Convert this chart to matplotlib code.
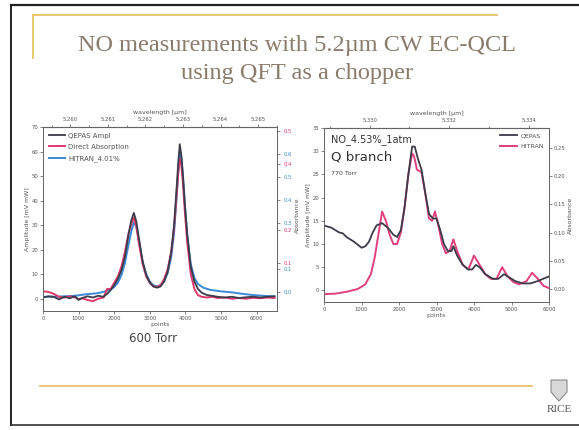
import matplotlib
matplotlib.use("Agg")
import matplotlib.pyplot as plt
from matplotlib.lines import Line2D
from matplotlib.patches import Polygon

# ---- left panel (600 Torr) ----
qepas_l_x = [0, 150, 300, 450, 600, 750, 900, 1000, 1100, 1250, 1400, 1550, 1700, 1800, 1900,
             2000, 2100, 2200, 2300, 2400, 2480, 2550, 2620, 2700, 2800, 2900, 3000, 3100, 3200,
             3300, 3400, 3500, 3600, 3680, 3750, 3800, 3840, 3880, 3930, 3980, 4050, 4150, 4250,
             4350, 4450, 4600, 4750, 4900, 5100, 5300, 5500, 5700, 5900, 6100, 6300, 6500]
qepas_l_y = [0.5, 1.0, 0.8, -0.3, 0.8, 0.2, 1.0, -0.5, 0.3, 1.0, 0.5, 1.2, 0.8, 2.0, 3.5,
             5.5, 8.0, 11.5, 17.0, 26.0, 32.0, 35.0, 31.5, 24.0, 15.0, 9.5, 6.5, 5.0, 4.5,
             5.0, 7.0, 11.0, 19.0, 30.0, 45.0, 56.0, 63.0, 59.0, 50.0, 39.0, 26.0, 13.0, 7.0,
             4.0, 2.5, 1.5, 1.2, 0.8, 0.5, 0.8, 0.3, 0.6, 0.8, 0.5, 0.8, 1.0]

direct_x = [0, 150, 300, 450, 600, 750, 900, 1000, 1100, 1250, 1400, 1550, 1700, 1800, 1900,
            2000, 2100, 2200, 2300, 2400, 2480, 2550, 2620, 2700, 2800, 2900, 3000, 3100, 3200,
            3300, 3400, 3500, 3600, 3680, 3750, 3800, 3840, 3880, 3930, 3980, 4050, 4150, 4250,
            4350, 4450, 4600, 4750, 4900, 5100, 5300, 5500, 5700, 5900, 6100, 6300, 6500]
direct_y = [3.0, 2.8, 2.0, 0.8, 0.5, 1.0, 0.5, -0.2, 0.2, -0.5, -1.0, 0.0, 0.5, 4.0, 4.0,
            6.5, 9.0, 13.0, 19.0, 26.5, 30.5, 33.0, 29.5, 22.0, 14.0, 9.0, 6.5, 5.0, 4.8,
            5.5, 8.0, 12.0, 19.0, 29.0, 42.0, 52.0, 57.0, 55.0, 47.0, 36.0, 23.0, 10.0, 4.0,
            1.5, 0.8, 0.5, 0.8, 0.3, 0.5, 0.0, 0.3, 0.0, 0.4, 0.2, 0.5, 0.3]

hitran_l_x = [0, 300, 600, 900, 1200, 1500, 1700, 1900, 2000, 2100, 2200, 2300, 2400, 2480,
              2550, 2620, 2700, 2800, 2900, 3000, 3100, 3200, 3300, 3400, 3500, 3600, 3680,
              3750, 3800, 3840, 3880, 3930, 3980, 4050, 4150, 4250, 4350, 4500, 4700, 5000,
              5300, 5600, 5900, 6200, 6500]
hitran_l_y = [0.8, 0.8, 1.0, 1.2, 1.8, 2.2, 2.8, 3.8, 4.8, 6.5, 9.5, 14.5, 22.0, 27.5,
              31.0, 29.5, 23.0, 15.0, 10.0, 7.0, 5.5, 5.0, 5.5, 7.0, 10.5, 17.0, 27.0,
              41.0, 52.0, 60.0, 58.0, 50.0, 39.0, 26.0, 14.0, 8.5, 6.0, 4.5, 3.6, 3.0,
              2.6, 2.0, 1.5, 1.2, 0.9]

# ---- right panel (770 Torr, Q branch) ----
qepas_r_x = [0, 200, 400, 500, 600, 800, 1000, 1100, 1200, 1300, 1400, 1550, 1700, 1850, 1950,
             2050, 2150, 2250, 2350, 2420, 2500, 2600, 2700, 2800, 2900, 3000, 3100, 3200,
             3300, 3400, 3450, 3550, 3700, 3850, 3950, 4050, 4150, 4300, 4500, 4650, 4800,
             4900, 5100, 5300, 5500, 5700, 5900, 6000]
qepas_r_y = [14.0, 13.5, 12.5, 12.3, 11.5, 10.5, 9.2, 9.5, 10.5, 12.5, 14.0, 14.5, 13.5, 12.0, 11.5,
             13.0, 18.0, 25.0, 31.0, 31.0, 28.5, 26.0, 21.0, 16.5, 15.5, 15.5, 13.0, 10.0,
             8.5, 8.5, 9.5, 7.5, 5.5, 4.5, 4.5, 5.5, 5.0, 3.5, 2.5, 2.5, 3.5,
             3.0, 2.0, 1.5, 1.5, 2.0, 2.7, 3.0]

hitran_r_x = [0, 300, 600, 900, 1100, 1250, 1350, 1450, 1550, 1650, 1750, 1850, 1950, 2050,
              2150, 2250, 2350, 2400, 2480, 2600, 2700, 2800, 2880, 2960, 3050, 3150, 3250,
              3350, 3450, 3550, 3700, 3850, 4000, 4150, 4300, 4450, 4600, 4750, 4900, 5050,
              5200, 5400, 5550, 5700, 5850, 6000]
hitran_r_y = [-0.8, -0.7, -0.3, 0.3, 1.3, 3.5, 7.0, 12.0, 17.0, 15.0, 12.0, 10.0, 10.0, 12.5,
              18.0, 25.0, 29.5, 29.0, 26.0, 25.5, 21.0, 15.5, 15.0, 17.0, 14.0, 10.0, 8.0,
              8.5, 11.0, 8.5, 5.5, 4.5, 7.5, 5.5, 3.5, 2.5, 2.5, 5.0, 3.0, 1.8,
              1.3, 2.0, 3.8, 2.5, 1.0, 0.5]

c_black = "#3c3c4a"
c_red = "#e0386c"
c_pink = "#e0407e"
c_blue = "#3a8ad6"
c_tick = "#555555"
c_title = "#8a7c6c"
c_gold = "#e8c466"

fig = plt.figure(figsize=(5.79, 4.30), dpi=100)
fig.patch.set_facecolor("white")


def fx(px):
    return px / 579.0


def fy(py):
    return 1 - py / 430.0


# slide frame and decoration
fig.add_artist(Line2D([fx(11), fx(579)], [fy(5), fy(5)], color="#222222", lw=1.6))
fig.add_artist(Line2D([fx(11), fx(11)], [fy(5), fy(425)], color="#222222", lw=1.4))
fig.add_artist(Line2D([fx(11), fx(579)], [fy(425), fy(425)], color="#333333", lw=1.2))
fig.add_artist(Line2D([fx(33), fx(497)], [fy(15), fy(15)], color=c_gold, lw=1.3))
fig.add_artist(Line2D([fx(33), fx(33)], [fy(15), fy(58)], color=c_gold, lw=1.3))
fig.add_artist(Line2D([fx(40), fx(532)], [fy(386), fy(386)], color=c_gold, lw=1.3))

fig.text(fx(297), fy(45), "NO measurements with 5.2\u00b5m CW EC-QCL", ha="center", va="center",
         fontsize=17.5, family="Liberation Serif", color=c_title)
fig.text(fx(297), fy(73), "using QFT as a chopper", ha="center", va="center",
         fontsize=17.5, family="Liberation Serif", color=c_title)

# RICE logo
shield = Polygon([(fx(551), fy(380)), (fx(567), fy(380)), (fx(567), fy(392)),
                  (fx(559), fy(401)), (fx(551), fy(392))], closed=True,
                 transform=fig.transFigure, facecolor="#d8d8d8", edgecolor="#8a8a8a", lw=0.8)
fig.add_artist(shield)
fig.text(fx(559), fy(410), "RICE", ha="center", va="center", fontsize=8,
         family="Liberation Serif", color="#555555")


def style_axis(ax):
    ax.tick_params(labelsize=3.8, colors=c_tick, length=2, width=0.5, pad=1.5)
    for s in ax.spines.values():
        s.set_color("#666666")
        s.set_linewidth(0.7)


# ---------------- left panel ----------------
axL = fig.add_axes([fx(43), fy(311), fx(277) - fx(43), fy(127) - fy(311)])
axL.plot(hitran_l_x, hitran_l_y, color=c_blue, lw=1.4, label="HITRAN_4.01%")
axL.plot(direct_x, direct_y, color=c_red, lw=1.4, label="Direct Absorption")
axL.plot(qepas_l_x, qepas_l_y, color=c_black, lw=1.3, label="QEPAS Ampl")
axL.set_xlim(0, 6570)
axL.set_ylim(-5, 70)
axL.set_xticks([0, 1000, 2000, 3000, 4000, 5000, 6000])
axL.set_yticks([0, 10, 20, 30, 40, 50, 60, 70])
axL.set_xlabel("points", fontsize=4.5, color=c_tick, labelpad=0.5)
axL.set_ylabel("Amplitude [mV mW]", fontsize=4.5, color=c_tick, labelpad=1)
style_axis(axL)
h, l = axL.get_legend_handles_labels()
axL.legend(h[::-1], l[::-1], loc="upper left", fontsize=5, frameon=False,
           handlelength=2.3, handletextpad=0.5, borderaxespad=0.4, labelspacing=0.75,
           labelcolor=c_tick)


def p2w_left(p):
    return 5.259271 + p / 1054000.0


def w2p_left(w):
    return (w - 5.259271) * 1054000.0


topL = axL.secondary_xaxis("top", functions=(p2w_left, w2p_left))
topL.set_xticks([5.260, 5.261, 5.262, 5.263, 5.264, 5.265])
topL.set_xticklabels(["5.260", "5.261", "5.262", "5.263", "5.264", "5.265"])
topL.set_xticks([5.2595, 5.2605, 5.2615, 5.2625, 5.2635, 5.2645, 5.2655], minor=True)
topL.set_xlabel("wavelength [\u00b5m]", fontsize=4.5, color=c_tick, labelpad=2)
topL.tick_params(labelsize=3.8, colors=c_tick, length=2, width=0.5, pad=1.5)
topL.tick_params(which="minor", length=1.2, width=0.5, colors=c_tick)

# two absorbance scales share the right spine (direct absorption red, HITRAN blue)
axR1 = axL.twinx()
axR1.set_ylim(-0.045, 0.512)
axR1.set_yticks([0.1, 0.2, 0.4, 0.5])
axR1.set_yticklabels(["0.1", "0.2", "0.4", "0.5"])
style_axis(axR1)
axR1.tick_params(axis="y", colors=c_tick, labelcolor=c_red, pad=2.5)

axR2 = axL.twinx()
axR2.set_ylim(-0.083, 0.717)
axR2.set_yticks([0.0, 0.1, 0.3, 0.4, 0.5, 0.6])
axR2.set_yticklabels(["0.0", "0.1", "0.3", "0.4", "0.5", "0.6"])
style_axis(axR2)
axR2.tick_params(axis="y", colors=c_tick, labelcolor=c_blue, pad=2.5)
fig.text(fx(297), fy(215), "Absorbance", rotation=90, ha="center", va="center",
         fontsize=4.3, color=c_tick)

fig.text(fx(153), fy(338), "600 Torr", ha="center", va="center", fontsize=8.5, color="#444444")

# ---------------- right panel ----------------
axQ = fig.add_axes([fx(324), fy(302), fx(549) - fx(324), fy(128) - fy(302)])
axQ.plot(hitran_r_x, hitran_r_y, color=c_pink, lw=1.4, label="HITRAN")
axQ.plot(qepas_r_x, qepas_r_y, color=c_black, lw=1.3, label="QEPAS")
axQ.set_xlim(0, 6000)
axQ.set_ylim(-2.5, 35)
axQ.set_xticks([0, 1000, 2000, 3000, 4000, 5000, 6000])
axQ.set_yticks([0, 5, 10, 15, 20, 25, 30, 35])
axQ.set_xlabel("points", fontsize=4.5, color=c_tick, labelpad=0.5)
axQ.set_ylabel("Amplitude [mV mW]", fontsize=4.5, color=c_tick, labelpad=1)
style_axis(axQ)
h, l = axQ.get_legend_handles_labels()
axQ.legend(h[::-1], l[::-1], loc="upper right", fontsize=4.5, frameon=False,
           handlelength=2.8, handletextpad=0.5, borderaxespad=0.4, labelspacing=0.8,
           labelcolor=c_tick)
axQ.text(0.03, 0.965, "NO_4.53%_1atm", transform=axQ.transAxes, ha="left", va="top",
         fontsize=7, color="#333333")
axQ.text(0.03, 0.87, "Q branch", transform=axQ.transAxes, ha="left", va="top",
         fontsize=9.5, color="#333333")
axQ.text(0.03, 0.755, "770 Torr", transform=axQ.transAxes, ha="left", va="top",
         fontsize=4.5, color="#444444")


def p2w_right(p):
    return 5.32885 + p / 1060000.0


def w2p_right(w):
    return (w - 5.32885) * 1060000.0


topQ = axQ.secondary_xaxis("top", functions=(p2w_right, w2p_right))
topQ.set_xticks([5.330, 5.332, 5.334])
topQ.set_xticklabels(["5.330", "5.332", "5.334"])
topQ.set_xticks([5.329, 5.331, 5.333], minor=True)
topQ.set_xlabel("wavelength [\u00b5m]", fontsize=4.5, color=c_tick, labelpad=2)
topQ.tick_params(labelsize=3.8, colors=c_tick, length=2, width=0.5, pad=1.5)
topQ.tick_params(which="minor", length=1.2, width=0.5, colors=c_tick)

axQ2 = axQ.twinx()
axQ2.set_ylim(-0.023, 0.285)
axQ2.set_yticks([0.00, 0.05, 0.10, 0.15, 0.20, 0.25])
axQ2.set_yticklabels(["0.00", "0.05", "0.10", "0.15", "0.20", "0.25"])
style_axis(axQ2)
axQ2.set_ylabel("Absorbance", fontsize=4.5, color=c_tick, labelpad=2)

fig.savefig("out.png", dpi=100)
